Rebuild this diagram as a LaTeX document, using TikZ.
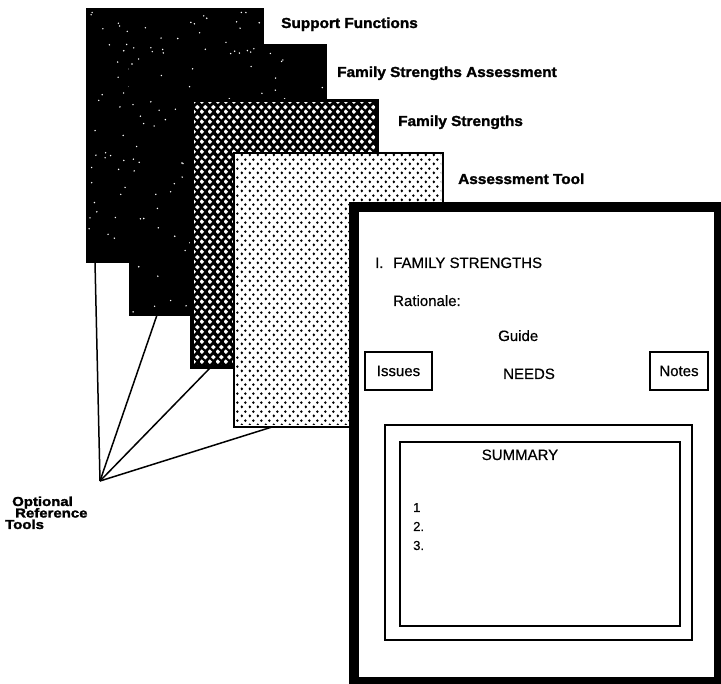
\documentclass[tikz,border=0pt]{standalone}
\usepackage{fontspec}
\usepackage{graphicx}
\setmainfont{Liberation Sans}[BoldFeatures={FakeBold=1.6}]
\newfontfamily\inner[FakeBold=0.5]{Liberation Sans}
\usetikzlibrary{patterns,calc}
\pgfdeclarepatternformonly{blackdots}{\pgfqpoint{0pt}{0pt}}{\pgfqpoint{8pt}{9.2pt}}{\pgfqpoint{8pt}{9.2pt}}{%
  \pgfpathcircle{\pgfqpoint{2pt}{2.3pt}}{1.55pt}%
  \pgfpathcircle{\pgfqpoint{6pt}{6.9pt}}{1.55pt}%
  \pgfusepath{fill}}
\pgfdeclarepatternformonly{whitedots}{\pgfqpoint{0pt}{0pt}}{\pgfqpoint{8pt}{10pt}}{\pgfqpoint{8pt}{10pt}}{%
  \pgfpathmoveto{\pgfqpoint{2pt}{0pt}}\pgfpathlineto{\pgfqpoint{4.6pt}{2.5pt}}%
  \pgfpathlineto{\pgfqpoint{2pt}{5pt}}\pgfpathlineto{\pgfqpoint{-0.6pt}{2.5pt}}\pgfpathclose
  \pgfpathmoveto{\pgfqpoint{6pt}{5pt}}\pgfpathlineto{\pgfqpoint{8.6pt}{7.5pt}}%
  \pgfpathlineto{\pgfqpoint{6pt}{10pt}}\pgfpathlineto{\pgfqpoint{3.4pt}{7.5pt}}\pgfpathclose
  \pgfusepath{fill}}
\begin{document}
\begin{tikzpicture}[x=1pt,y=-1pt,
  sheet/.style={anchor=north west, inner sep=0, outer sep=0, draw=black, line width=1.5pt},
  lbl/.style={anchor=base west, inner sep=0, font=\fontsize{14.5}{17}\selectfont\bfseries},
  optlbl/.style={anchor=base west, inner sep=0, font=\fontsize{13}{14}\selectfont\bfseries},
  txt/.style={anchor=base west, inner sep=0, font=\fontsize{15}{18}\selectfont\inner},
  num/.style={anchor=base west, inner sep=0, font=\fontsize{13}{15}\selectfont\inner},
  tab/.style={draw, line width=1.8pt, inner sep=0, font=\fontsize{15}{18}\selectfont\inner},
  ray/.style={line width=1.5pt}]
\useasboundingbox (0,0) rectangle (721,684);
\fill[white] (0,0) rectangle (721,684);
% sheet 1: Support Functions
\node[sheet, fill=black, minimum width=176, minimum height=253] (p1) at (87,9) {};
\pgfmathsetseed{11}
\foreach \i in {1,...,150}{%
  \pgfmathsetmacro\xx{89+172*rnd}\pgfmathsetmacro\yy{11+249*rnd}%
  \fill[white] (\xx,\yy) circle (0.8);}
% sheet 2: Family Strengths Assessment
\node[sheet, fill=black, minimum width=196, minimum height=270] (p2) at (130,45) {};
\foreach \i in {1,...,120}{%
  \pgfmathsetmacro\xx{132+192*rnd}\pgfmathsetmacro\yy{47+266*rnd}%
  \fill[white] (\xx,\yy) circle (0.8);}
% sheet 3: Family Strengths
\node[sheet, fill=black, minimum width=187, minimum height=268] (p3) at (191,100) {};
\fill[pattern=whitedots, pattern color=white] (194,103) rectangle (375,365);
% sheet 4: Assessment Tool
\node[sheet, fill=white, minimum width=209, minimum height=274] (p4) at (234,153) {};
\fill[pattern=blackdots, pattern color=black] (236,155) rectangle (441,425);
% labels of the sheets
\node[lbl] (l1) at (281,28) {\scalebox{1.06}[1]{Support Functions}};
\node[lbl] (l2) at (337,77) {\scalebox{1.06}[1]{Family Strengths Assessment}};
\node[lbl] (l3) at (398,126) {\scalebox{1.06}[1]{Family Strengths}};
\node[lbl] (l4) at (458,184) {\scalebox{1.06}[1]{Assessment Tool}};
% optional reference tools
\coordinate (apex) at (100,481);
\coordinate (e1) at (95,262);
\coordinate (e2) at (157,315);
\coordinate (e3) at (210,368);
\coordinate (e4) at (272,427);
\draw[ray] (apex) -- (e1);
\draw[ray] (apex) -- (e2);
\draw[ray] (apex) -- (e3);
\draw[ray] (apex) -- (e4);
\node[optlbl] (o1) at (12,506) {\scalebox{1.15}[1]{Optional}};
\node[optlbl] (o2) at (15,517.5) {\scalebox{1.15}[1]{Reference}};
\node[optlbl] (o3) at (5,529) {\scalebox{1.15}[1]{Tools}};
% main frame
\node[draw, fill=white, line width=10pt, inner sep=0, anchor=north west,
      minimum width=365, minimum height=475] (frame) at (349,202) {};
\node[txt] (num) at (375,268) {I.};
\node[txt] (fs) at (393,268) {FAMILY STRENGTHS};
\node[txt] (rat) at (393,306) {Rationale:};
\node[txt] (guide) at (498,341) {Guide};
\node[tab, minimum width=67, minimum height=38] (issues) at (398.5,371) {Issues};
\node[txt] (needs) at (503,379) {NEEDS};
\node[tab, minimum width=58, minimum height=38] (notes) at (679,371) {Notes};
\node[draw, line width=1.6pt, inner sep=0, minimum width=307, minimum height=215] (sumout) at (538.5,532.5) {};
\node[draw, line width=2pt, inner sep=0, minimum width=280, minimum height=184] (sumin) at (540,534) {};
\node[txt, anchor=base] (sumt) at (520,460) {SUMMARY};
\node[num] (n1) at (413,512) {1};
\node[num] (n2) at (413,531) {2.};
\node[num] (n3) at (413,550) {3.};
\end{tikzpicture}
\end{document}
